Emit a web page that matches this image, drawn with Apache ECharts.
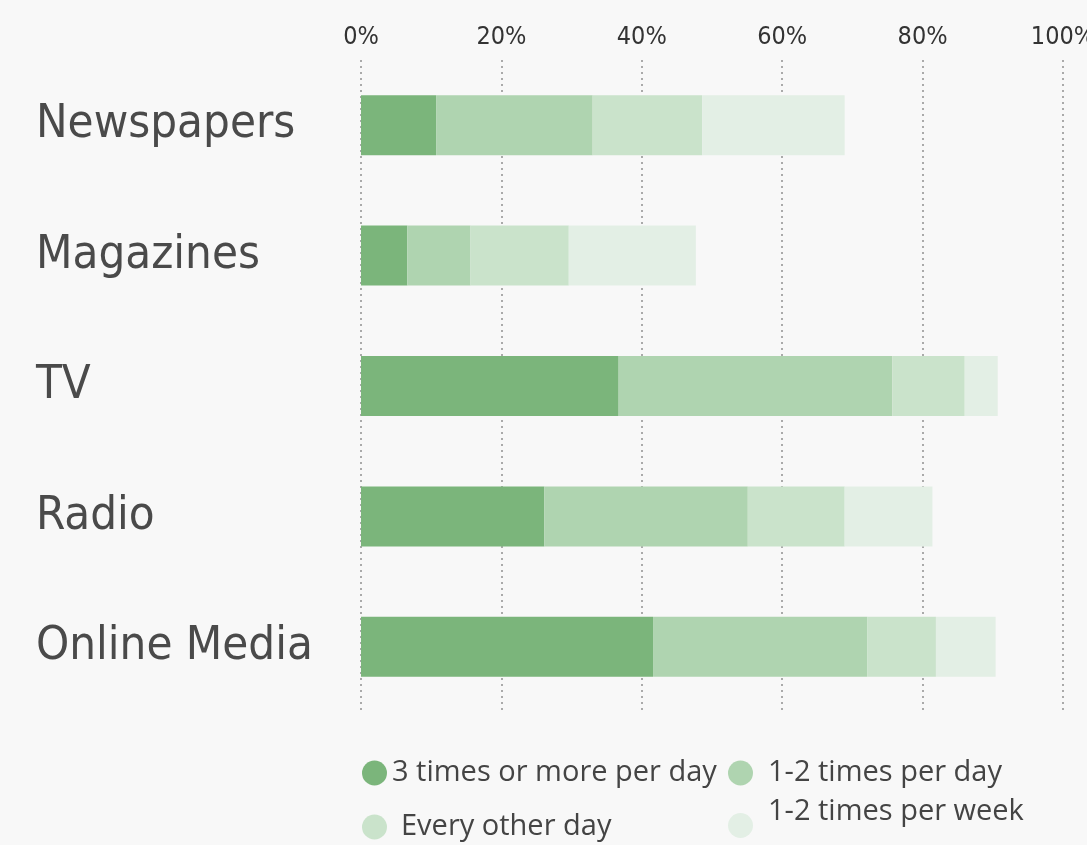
<!DOCTYPE html>
<html>
<head>
    <meta charset="utf-8">
    <title>Media usage</title>
    <script src="https://cdn.jsdelivr.net/npm/echarts@6/dist/echarts.min.js"></script>
    <style>
        html, body { margin: 0; padding: 0; background: #f8f8f8; }
    </style>
</head>
<body>
<div id="main" style="width: 1087px;height:845px;"></div>
<script type="text/javascript">
    var categories = ['Newspapers', 'Magazines', 'TV', 'Radio', 'Online Media'];
    var seriesNames = ['3 times or more per day', '1-2 times per day', 'Every other day', '1-2 times per week'];
    var threePlusPerDay = [10.7, 6.6, 36.7, 26.1, 41.6];
    var oneTwoPerDay = [22.3, 9.0, 39.0, 29.0, 30.5];
    var everyOtherDay = [15.6, 14.0, 10.3, 13.8, 9.8];
    var oneTwoPerWeek = [20.3, 18.1, 4.7, 12.5, 8.5];
    var tickLabels = ['0%', '20%', '40%', '60%', '80%', '100%'];

    var colors = ['#7bb57b', '#afd4b0', '#cae3cb', '#e3efe5'];
    var values = [threePlusPerDay, oneTwoPerDay, everyOtherDay, oneTwoPerWeek];

    var condensed = '"DejaVu Sans Condensed", "Liberation Sans Narrow", sans-serif';

    var series = [];
    for (var i = 0; i < seriesNames.length; i++) {
        series.push({
            name: seriesNames[i],
            type: 'bar',
            stack: 'total',
            barWidth: 60,
            itemStyle: { color: colors[i] },
            data: values[i]
        });
    }

    // legend laid out like the original, one component per item
    function legendAt(name, left, top, padLeft, extra) {
        var l = {
            data: [name],
            left: left,
            top: top,
            icon: 'circle',
            itemWidth: 25,
            itemHeight: 25,
            itemGap: 0,
            padding: 0,
            textStyle: {
                fontFamily: '"Open Sans", "Noto Sans", sans-serif',
                fontSize: 29,
                lineHeight: 30,
                color: '#444',
                padding: [0, 0, 0, padLeft]
            }
        };
        for (var k in extra) l[k] = extra[k];
        return l;
    }

    var chart = echarts.init(document.getElementById('main'));
    chart.setOption({
        backgroundColor: '#f8f8f8',
        animation: false,
        color: colors,
        grid: { left: 361, top: 60, width: 702, height: 652, outerBoundsMode: 'none', containLabel: false },
        legend: [
            legendAt(seriesNames[0], 362, 758, 0),
            legendAt(seriesNames[1], 728, 758, 10),
            legendAt(seriesNames[2], 362, 812, 9),
            // last item: circle sits lower than its text
            legendAt(seriesNames[3], 728, 813, 0, { formatter: function () { return ''; } }),
            legendAt(seriesNames[3], 728, 797, 10, { icon: 'none' })
        ],
        xAxis: {
            type: 'value',
            position: 'top',
            min: 0,
            max: 100,
            interval: 20,
            axisLine: { show: false },
            axisTick: { show: false },
            axisLabel: {
                margin: 10,
                fontFamily: condensed,
                fontSize: 25,
                color: '#333',
                formatter: function (v) { return tickLabels[v / 20]; }
            },
            splitLine: {
                show: true,
                lineStyle: { color: '#aaa', type: [2, 4], width: 2 }
            }
        },
        yAxis: {
            type: 'category',
            inverse: true,
            data: categories,
            axisLine: { show: false },
            axisTick: { show: false },
            axisLabel: {
                align: 'left',
                margin: 325,
                fontFamily: condensed,
                fontSize: 47,
                color: '#4a4a4a'
            }
        },
        series: series
    });
</script>
</body>
</html>
